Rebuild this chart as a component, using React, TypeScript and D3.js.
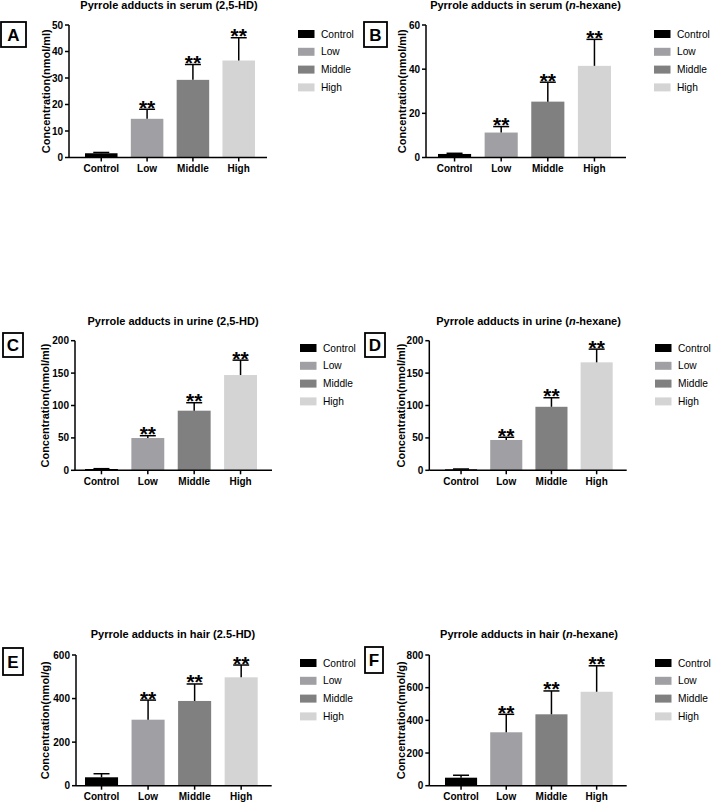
import React from "react";
import * as d3 from "d3";

const categories = ["Control", "Low", "Middle", "High"];
const barColors = ["#000000", "#a0a0a4", "#808080", "#d4d4d4"];

// Panel A: serum (2,5-HD)
const serumHDMean = [1.6, 14.6, 29.3, 36.6];
const serumHDSd = [0.3, 3.6, 5.8, 8.6];
const serumHDTicks = [0, 10, 20, 30, 40, 50];
// Panel B: serum (n-hexane)
const serumHexMean = [1.6, 11.3, 25.3, 41.5];
const serumHexSd = [0.3, 2.7, 8.8, 12.0];
const serumHexTicks = [0, 20, 40, 60];
// Panel C: urine (2,5-HD)
const urineHDMean = [2, 49.8, 92, 147];
const urineHDSd = [0.5, 3.6, 12.3, 23];
const urineHDTicks = [0, 50, 100, 150, 200];
// Panel D: urine (n-hexane)
const urineHexMean = [1.5, 46.8, 98, 166.6];
const urineHexSd = [0.5, 4.2, 14, 20.4];
const urineHexTicks = [0, 50, 100, 150, 200];
// Panel E: hair (2.5-HD)
const hairHDMean = [38.6, 303, 389, 497.6];
const hairHDSd = [16.4, 90, 78, 56.4];
const hairHDTicks = [0, 200, 400, 600];
// Panel F: hair (n-hexane)
const hairHexMean = [49, 327, 437, 575];
const hairHexSd = [15, 110, 143, 159];
const hairHexTicks = [0, 200, 400, 600, 800];

const significance = ["", "**", "**", "**"];

const FONT = "'Liberation Sans', Arial, Helvetica, sans-serif";

type Panel = {
  label: string;
  box: number[];
  titlePre: string;
  titleItalic: string;
  titlePost: string;
  titleX: number;
  titleY: number;
  yLabel: string;
  yTitleX: number;
  axisX: number;
  yTop: number;
  yBottom: number;
  xEnd: number;
  barsStart: number;
  barsEnd: number;
  legendX: number;
  legendY: number;
  mean: number[];
  sd: number[];
  ticks: number[];
};

const panels: Panel[] = [
  {
    label: "A", box: [1, 22, 25, 25],
    titlePre: "Pyrrole adducts in serum (2,5-HD)", titleItalic: "", titlePost: "",
    titleX: 169, titleY: 9, yLabel: "Concentration(nmol/ml)", yTitleX: 46,
    axisX: 69, yTop: 25, yBottom: 157.5, xEnd: 267, barsStart: 85, barsEnd: 255,
    legendX: 298, legendY: 34, mean: serumHDMean, sd: serumHDSd, ticks: serumHDTicks,
  },
  {
    label: "B", box: [364, 22, 23, 25],
    titlePre: "Pyrrole adducts in serum (", titleItalic: "n", titlePost: "-hexane)",
    titleX: 525.5, titleY: 9, yLabel: "Concentration(nmol/ml)", yTitleX: 402,
    axisX: 426, yTop: 25, yBottom: 157.5, xEnd: 626, barsStart: 438, barsEnd: 611,
    legendX: 654, legendY: 34, mean: serumHexMean, sd: serumHexSd, ticks: serumHexTicks,
  },
  {
    label: "C", box: [3, 333, 20, 24],
    titlePre: "Pyrrole adducts in urine (2,5-HD)", titleItalic: "", titlePost: "",
    titleX: 173, titleY: 325, yLabel: "Concentration(nmol/ml)", yTitleX: 45,
    axisX: 75, yTop: 340.7, yBottom: 470.3, xEnd: 272, barsStart: 85, barsEnd: 257,
    legendX: 300, legendY: 348, mean: urineHDMean, sd: urineHDSd, ticks: urineHDTicks,
  },
  {
    label: "D", box: [365, 333, 20, 24],
    titlePre: "Pyrrole adducts in urine (", titleItalic: "n", titlePost: "-hexane)",
    titleX: 528.6, titleY: 325, yLabel: "Concentration(nmol/ml)", yTitleX: 401,
    axisX: 429.3, yTop: 340.7, yBottom: 470.3, xEnd: 626.7, barsStart: 445, barsEnd: 612.7,
    legendX: 655, legendY: 348, mean: urineHexMean, sd: urineHexSd, ticks: urineHexTicks,
  },
  {
    label: "E", box: [3, 648, 20, 27],
    titlePre: "Pyrrole adducts in hair (2.5-HD)", titleItalic: "", titlePost: "",
    titleX: 173, titleY: 638, yLabel: "Concentration(nmol/g)", yTitleX: 45,
    axisX: 76, yTop: 655, yBottom: 785.7, xEnd: 271.7, barsStart: 85, barsEnd: 257.7,
    legendX: 300, legendY: 663, mean: hairHDMean, sd: hairHDSd, ticks: hairHDTicks,
  },
  {
    label: "F", box: [365, 647, 18, 26],
    titlePre: "Pyrrole adducts in hair (", titleItalic: "n", titlePost: "-hexane)",
    titleX: 529, titleY: 638, yLabel: "Concentration(nmol/g)", yTitleX: 401,
    axisX: 429.3, yTop: 655, yBottom: 785.7, xEnd: 626.7, barsStart: 445, barsEnd: 612.7,
    legendX: 655, legendY: 663, mean: hairHexMean, sd: hairHexSd, ticks: hairHexTicks,
  },
];

function BarPanel({ p }: { p: Panel }) {
  const y = d3
    .scaleLinear()
    .domain([0, p.ticks[p.ticks.length - 1]])
    .range([p.yBottom, p.yTop]);
  const x = d3
    .scaleBand<string>()
    .domain(categories)
    .range([p.barsStart, p.barsEnd])
    .paddingInner(0.29)
    .paddingOuter(0);
  const bw = x.bandwidth();
  const capHalf = 8;
  const [bx, by, bwid, bh] = p.box;
  const yMid = (p.yTop + p.yBottom) / 2;
  return (
    <g>
      {/* panel label box */}
      <rect x={bx} y={by} width={bwid} height={bh} fill="none" stroke="#000" strokeWidth={1.8} />
      <text x={bx + bwid / 2} y={by + bh / 2 + 6} textAnchor="middle" fontSize={17} fontWeight="bold" fontFamily={FONT}>
        {p.label}
      </text>
      {/* title */}
      <text x={p.titleX} y={p.titleY} textAnchor="middle" fontSize={11} fontWeight="bold" fontFamily={FONT}>
        {p.titlePre}
        {p.titleItalic ? <tspan fontStyle="italic">{p.titleItalic}</tspan> : null}
        {p.titlePost}
      </text>
      {/* y title */}
      <text
        transform={`translate(${p.yTitleX},${yMid}) rotate(-90)`}
        textAnchor="middle"
        dy="0.35em"
        fontSize={11}
        fontWeight="bold"
        fontFamily={FONT}
      >
        {p.yLabel}
      </text>
      {/* bars */}
      {categories.map((c, i) => {
        const x0 = x(c) as number;
        const top = y(p.mean[i]);
        const errTop = y(p.mean[i] + p.sd[i]);
        const cx = x0 + bw / 2;
        return (
          <g key={c}>
            <rect x={x0} y={top} width={bw} height={p.yBottom - top} fill={barColors[i]} />
            <line x1={cx} x2={cx} y1={top} y2={errTop} stroke="#000" strokeWidth={1.5} />
            <line x1={cx - capHalf} x2={cx + capHalf} y1={errTop} y2={errTop} stroke="#000" strokeWidth={1.5} />
            {significance[i] ? (
              <text x={cx} y={errTop + 5.5} textAnchor="middle" fontSize={21} fontWeight="bold" fontFamily={FONT} fill="#000">
                {significance[i]}
              </text>
            ) : null}
          </g>
        );
      })}
      {/* y axis */}
      <line x1={p.axisX} x2={p.axisX} y1={p.yTop} y2={p.yBottom} stroke="#000" strokeWidth={1.5} />
      {p.ticks.map((t) => (
        <g key={t}>
          <line x1={p.axisX - 4} x2={p.axisX} y1={y(t)} y2={y(t)} stroke="#000" strokeWidth={1.5} />
          <text x={p.axisX - 6} y={y(t)} dy="0.35em" textAnchor="end" fontSize={10} fontWeight="bold" fontFamily={FONT}>
            {t}
          </text>
        </g>
      ))}
      {/* x axis */}
      <line x1={p.axisX} x2={p.xEnd} y1={p.yBottom} y2={p.yBottom} stroke="#000" strokeWidth={1.5} />
      {categories.map((c) => {
        const cx = (x(c) as number) + bw / 2;
        return (
          <g key={c}>
            <line x1={cx} x2={cx} y1={p.yBottom} y2={p.yBottom + 4} stroke="#000" strokeWidth={1.5} />
            <text x={cx} y={p.yBottom + 14.5} textAnchor="middle" fontSize={10} fontWeight="bold" fontFamily={FONT}>
              {c}
            </text>
          </g>
        );
      })}
      {/* legend */}
      {categories.map((c, i) => (
        <g key={c}>
          <rect x={p.legendX} y={p.legendY + i * 17.8 - 4} width={16.5} height={8} fill={barColors[i]} />
          <text x={p.legendX + 23} y={p.legendY + i * 17.8} dy="0.35em" fontSize={10.2} fontFamily={FONT}>
            {c}
          </text>
        </g>
      ))}
    </g>
  );
}

export default function App() {
  return (
    <svg
      width={712}
      height={802}
      style={{ position: "absolute", left: 0, top: 0, background: "#fff" }}
    >
      <rect width={712} height={802} fill="#fff" />
      {panels.map((p) => (
        <BarPanel key={p.label} p={p} />
      ))}
    </svg>
  );
}
